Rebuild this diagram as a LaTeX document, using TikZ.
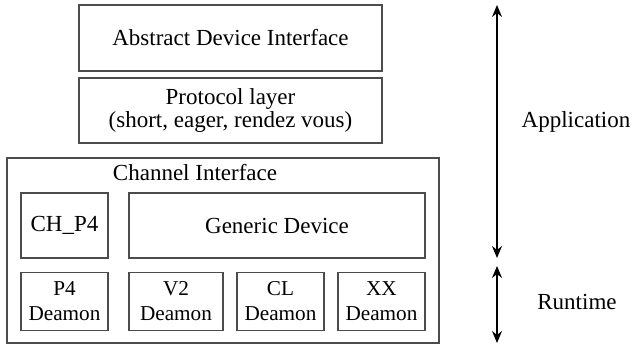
\documentclass[tikz,border=0pt]{standalone}
\usepackage{fontspec}
\setmainfont{Liberation Serif}
\usetikzlibrary{arrows.meta}

\begin{document}
\begin{tikzpicture}[x=0.5pt, y=-0.5pt,
        layer/.style = {draw=black!70,
            line width=0.6pt,
            align=center,
            inner sep=0pt,
            font=\fontsize{11.5}{11.5}\selectfont},
        deamon/.style = {layer,
            minimum height=29pt,
            font=\fontsize{10.6}{12.5}\selectfont},
        span/.style = {{Stealth[length=6pt,width=5pt,inset=2pt]}-{Stealth[length=6pt,width=5pt,inset=2pt]},
            line width=0.6pt},
        tag/.style = {font=\fontsize{11.5}{12}\selectfont}]

        \useasboundingbox (0,0) rectangle (632,347);

        % Abstract device interface
        \node[layer, minimum width=151.5pt, minimum height=33pt] (adi) at (230.5,38) {Abstract Device Interface};

        % Protocol layer
        \node[layer, minimum width=151.5pt, minimum height=32.5pt] (proto) at (230.5,110.5) {Protocol layer\\(short, eager, rendez vous)};

        % Channel interface
        \node[layer, minimum width=216pt, minimum height=92.5pt] (chan) at (223,250.5) {};
        \node[tag] (chanlabel) at (195,173) {Channel Interface};

        % Devices
        \node[layer, minimum width=43.5pt, minimum height=32.5pt] (chp4) at (64.5,225.5) {CH\_P4};
        \node[layer, minimum width=148pt, minimum height=32.5pt] (generic) at (277,225.5) {Generic Device};

        % Deamons
        \node[deamon, minimum width=43.5pt] (p4) at (64.5,301.5) {P4\\Deamon};
        \node[deamon, minimum width=47pt] (v2) at (176,301.5) {V2\\Deamon};
        \node[deamon, minimum width=43.5pt] (cl) at (280.5,301.5) {CL\\Deamon};
        \node[deamon, minimum width=43.5pt] (xx) at (381.5,301.5) {XX\\Deamon};

        % Application and runtime spans
        \coordinate (apptop) at (497,5);
        \coordinate (appbot) at (497,258);
        \coordinate (runtop) at (497,266);
        \coordinate (runbot) at (497,343);
        \draw[span] (apptop) -- (appbot);
        \draw[span] (runtop) -- (runbot);
        \node[tag] (app) at (576,122) {Application};
        \node[tag] (run) at (577,302) {Runtime};

    \end{tikzpicture}
\end{document}
